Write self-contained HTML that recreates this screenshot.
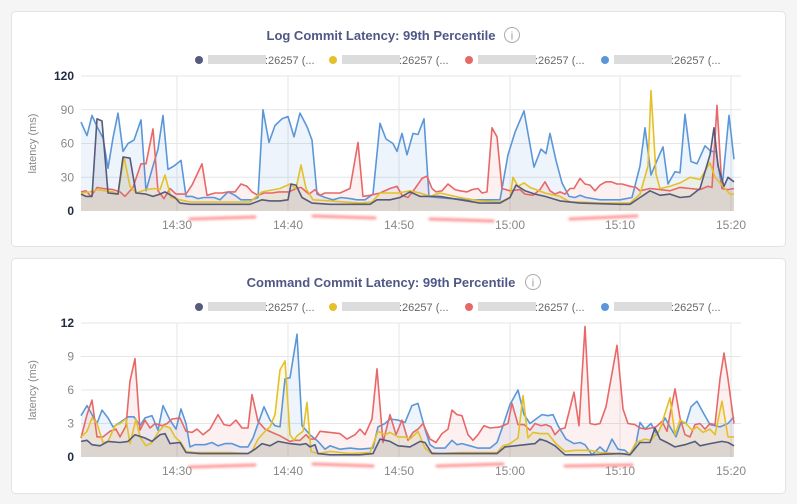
<!DOCTYPE html>
<html><head><meta charset="utf-8"><style>
html,body{margin:0;padding:0;background:#f5f5f5;width:797px;height:504px;overflow:hidden;font-family:"Liberation Sans",sans-serif}
svg{position:absolute;left:0;top:0}
</style></head><body>
<svg id="s" width="797" height="504" xmlns="http://www.w3.org/2000/svg">
<defs><filter id="bl" filterUnits="userSpaceOnUse" x="0" y="0" width="797" height="504"><feGaussianBlur stdDeviation="1.2"/></filter></defs>
</svg>
<script>
var S=document.getElementById('s'),NS='http://www.w3.org/2000/svg';
function el(t,a,txt){var e=document.createElementNS(NS,t);for(var k in a)e.setAttribute(k,a[k]);if(txt!=null)e.textContent=txt;S.appendChild(e);return e;}
var C={d:'#565a7c',y:'#e4c02a',r:'#e86868',b:'#5b97d8'};
function chart(top,title,titleX,infoX,max,ticks,zeroY,topY,data){
  el('rect',{x:11.5,y:top+0.5,width:774,height:235,rx:4,fill:'#fff',stroke:'#e3e3e3'});
  el('text',{x:titleX,y:top+29,'font-size':13,'font-weight':'bold',fill:'#4f5787','text-anchor':'middle'},title);
  el('circle',{cx:infoX,cy:top+24,r:7.5,fill:'none',stroke:'#aaa','stroke-width':1});
  el('text',{x:infoX,y:top+28.5,'font-size':11,fill:'#999','text-anchor':'middle'},'i');
  var lx=[199,333,469,605],lc=[C.d,C.y,C.r,C.b];
  for(var i=0;i<4;i++){el('circle',{cx:lx[i],cy:top+49,r:4,fill:lc[i]});
    el('rect',{x:lx[i]+9,y:top+44,width:58,height:9,fill:'#dcdcdc'});
    el('text',{x:lx[i]+66,y:top+53,'font-size':11,fill:'#666'},':26257 (...');}
  var h=zeroY-topY;
  for(var j=0;j<ticks.length;j++){var v=ticks[j],y=zeroY-h*v/max;
    if(j>0)el('line',{x1:81,x2:741,y1:y,y2:y,stroke:'#e6e6e6'});
    el('text',{x:74,y:y+4,'font-size':12,'text-anchor':'end',fill:(v==0||v==max)?'#222a44':'#888','font-weight':(v==0||v==max)?'bold':'normal'},v);}
  var xs=[177,288,399,510,620,731],xl=['14:30','14:40','14:50','15:00','15:10','15:20'];
  for(var j=0;j<6;j++){el('line',{x1:xs[j],x2:xs[j],y1:topY,y2:zeroY,stroke:'#e6e6e6'});
    el('text',{x:xs[j],y:zeroY+18,'font-size':12,fill:'#888','text-anchor':'middle'},xl[j]);}
  el('text',{transform:'translate(36,'+((zeroY+topY)/2)+') rotate(-90)','font-size':11,fill:'#888','text-anchor':'middle'},'latency (ms)');
  var order=['b','r','y','d'];
  order.forEach(function(k){var p=data[k].map(function(q){return q[0]+','+(zeroY-h*q[1]/max).toFixed(1)});
    el('polygon',{points:'81,'+zeroY+' '+p.join(' ')+' 734,'+zeroY,fill:C[k],'fill-opacity':0.1});});
  order.forEach(function(k){var p=data[k].map(function(q){return q[0]+','+(zeroY-h*q[1]/max).toFixed(1)});
    el('polyline',{points:p.join(' '),fill:'none',stroke:C[k],'stroke-width':1.6,'stroke-linejoin':'round'});});
}
function P(a){var r=[];for(var i=0;i<a.length;i+=2)r.push([a[i],a[i+1]]);return r;}
var d1={
b:P([81,79,87,67,92,85,97,75,103,65,108,38,113,65,118,87,123,53,128,60,134,63,141,81,146,18,153,40,158,55,163,85,168,37,174,40,181,45,186,13,192,13,198,11,204,12,214,12,220,10,228,17,235,14,241,10,252,10,258,12,263,90,269,61,275,76,282,82,288,84,294,66,300,87,307,75,312,63,317,15,325,12,333,10,341,12,350,11,357,10,365,10,373,15,380,78,386,64,393,60,397,53,402,69,407,50,413,69,418,68,424,82,429,13,437,12,450,11,470,10,500,10,508,50,515,70,524,89,534,39,541,55,546,51,550,69,556,45,562,25,569,13,575,12,580,14,586,12,600,10,620,10,632,12,640,40,645,74,651,32,657,45,663,57,668,24,675,35,680,34,685,86,691,44,697,42,705,58,711,53,716,53,722,20,729,85,734,46]),
y:P([81,16,90,17,97,19,105,18,113,17,118,15,124,48,130,22,136,16,146,19,155,20,160,19,165,32,171,12,180,10,190,8,250,8,262,17,280,20,290,24,296,20,301,41,306,20,313,10,330,9,360,7,372,8,380,16,398,16,410,18,420,16,430,13,440,16,460,12,480,9,500,8,510,12,513,30,518,22,524,25,530,21,545,16,560,13,570,8,580,8,600,7,630,7,640,15,648,40,651,107,656,33,660,20,670,22,680,25,690,30,700,28,710,43,715,30,725,20,730,15,734,15]),
d:P([81,15,86,13,92,13,97,82,102,80,108,16,118,15,123,48,130,47,136,16,146,15,153,13,160,15,165,17,175,12,180,7,190,6,200,6,250,6,262,10,270,9,280,9,288,10,291,24,296,23,302,12,312,7,330,6,370,6,377,10,390,10,400,12,410,17,420,13,440,13,460,10,480,7,500,7,510,12,516,23,525,18,535,15,545,13,560,9,580,7,620,6,630,6,640,12,650,18,660,14,670,15,680,12,690,13,700,20,710,50,714,74,718,40,724,22,728,30,734,26]),
r:P([81,17,86,18,91,13,97,21,103,20,113,19,120,17,125,13,133,21,141,42,146,42,153,73,158,18,164,11,170,20,176,15,186,15,192,23,202,42,207,14,215,16,222,16,228,17,235,17,241,24,247,22,252,17,258,14,264,16,272,16,279,17,289,17,296,20,301,21,309,15,315,19,320,14,325,16,340,16,350,20,358,61,363,13,370,14,380,16,390,20,397,22,402,14,408,12,415,20,422,29,427,31,432,20,436,17,442,18,448,24,455,19,460,18,467,17,472,19,478,20,482,16,487,17,492,74,497,66,502,20,510,18,520,19,525,15,533,14,540,19,545,26,550,18,555,15,560,17,565,15,570,20,574,20,580,29,585,24,590,23,595,18,600,23,606,26,611,26,617,24,622,24,630,22,636,21,640,18,650,20,660,19,670,18,680,21,690,20,700,19,708,22,712,21,717,94,722,20,728,19,734,20])};
var d2={
b:P([81,3.7,87,4.6,97,3.0,102,4.2,108,3.5,113,2.7,120,3.1,128,3.6,134,3.6,140,2.8,145,3.5,152,3.7,158,2.4,163,4.6,170,3.3,176,2.5,181,4.3,186,3.0,190,0.9,195,1.1,205,1.1,212,1.3,218,1.0,225,1.2,232,1.2,240,0.9,248,0.9,253,1.7,264,4.5,270,3.3,275,2.8,280,2.7,285,7.0,290,7.1,297,11.0,302,2.8,310,2.0,318,1.4,325,0.7,330,1.0,340,0.7,350,0.8,360,0.7,373,0.8,378,2.7,385,3.0,390,3.4,398,3.3,405,3.1,412,4.6,418,4.8,425,2.5,430,1.1,435,0.8,445,0.8,452,1.5,457,1.1,462,1.2,470,1.0,478,0.8,490,0.8,497,1.3,503,2.8,510,4.7,518,6.0,524,3.8,530,3.0,536,3.4,542,3.8,548,3.7,553,3.8,558,2.8,566,1.6,574,1.2,580,1.3,585,1.1,592,0.2,600,0.9,606,0.4,612,1.6,618,0.7,625,0.6,630,0.2,636,1.2,640,3.1,645,2.5,651,3.0,657,2.0,665,3.5,670,2.7,676,1.8,681,3.1,686,3.0,691,4.5,697,5.0,703,4.0,710,2.9,720,2.7,728,3.0,734,3.6]),
r:P([81,1.7,87,3.8,92,5.1,97,1.8,103,1.8,110,2.3,116,2.5,120,1.8,126,2.8,130,6.8,135,8.8,140,2.4,145,3.3,150,2.6,155,3.0,162,2.8,167,3.0,172,3.4,180,3.5,186,2.3,192,2.2,197,2.5,203,2.0,210,2.5,218,3.8,224,2.9,230,2.8,236,3.3,242,2.6,248,2.6,252,5.6,258,3.2,265,2.5,272,2.2,280,1.9,290,1.4,295,1.5,300,1.5,306,2.0,310,1.6,315,1.6,320,2.3,330,2.2,340,2.1,347,1.6,355,2.0,360,2.5,365,2.0,372,3.4,377,7.9,383,1.3,390,3.8,396,2.0,402,3.3,408,1.5,413,2.2,418,2.5,423,3.0,430,1.6,436,1.3,442,2.1,448,2.5,452,4.2,457,3.8,462,3.7,468,2.0,473,1.5,478,2.0,484,2.8,490,2.6,500,2.7,508,3.0,512,4.8,518,2.9,524,2.9,530,2.4,535,3.0,541,2.8,546,2.9,551,2.7,555,2.0,560,2.5,565,2.6,574,5.8,579,2.8,585,11.7,590,3.0,595,2.9,600,3.0,606,4.5,612,7.5,617,10.0,623,4.3,628,3.0,635,2.9,640,2.6,646,2.5,651,2.6,656,2.7,662,3.2,667,2.3,670,3.8,675,6.1,680,3.5,685,2.0,690,1.8,695,2.9,700,3.0,705,2.5,710,3.0,715,2.9,720,7.0,724,9.3,728,7.0,734,3.0]),
y:P([81,1.8,87,2.3,92,3.5,97,3.0,103,1.3,108,1.4,115,2.8,120,3.0,126,3.4,130,1.2,136,3.4,140,1.8,146,1.0,152,1.3,158,2.2,164,2.8,170,2.6,175,1.8,181,1.3,186,0.5,195,0.4,210,0.4,230,0.4,248,0.3,252,0.5,258,1.6,265,2.3,270,2.7,275,3.8,280,7.8,285,8.6,290,2.0,294,1.5,297,1.9,303,2.3,307,4.9,311,0.5,318,0.3,330,0.5,340,0.4,350,0.3,370,0.4,378,2.3,385,2.0,390,2.2,398,1.8,405,1.8,410,1.6,418,2.3,425,0.8,430,0.4,440,0.3,460,0.4,480,0.4,497,0.4,503,1.0,510,1.2,518,1.7,523,5.5,528,1.7,533,2.2,540,2.1,548,2.1,556,1.2,565,0.5,575,0.6,590,0.6,600,0.4,620,0.3,630,0.3,636,1.3,645,1.6,651,1.5,660,2.5,670,5.3,675,2.0,680,3.3,686,3.0,692,2.4,697,2.7,703,2.2,710,2.5,715,2.0,722,5.0,728,1.8,734,1.8]),
d:P([81,1.4,87,1.5,92,1.1,100,1.0,108,1.4,120,1.3,128,1.4,135,2.0,145,1.7,152,1.4,160,2.0,165,2.1,170,1.2,180,1.3,186,0.4,200,0.3,220,0.3,248,0.3,255,0.7,262,1.2,270,1.0,278,1.4,290,1.2,300,1.1,306,1.2,310,0.9,315,1.1,318,0.3,330,0.2,360,0.2,373,0.3,380,1.6,390,1.4,398,1.0,410,0.9,420,1.4,425,1.3,432,0.3,460,0.3,497,0.3,505,0.9,515,1.0,525,1.1,535,1.2,540,1.6,547,1.4,555,1.0,565,0.2,590,0.2,620,0.3,630,0.2,640,1.3,650,1.3,655,2.6,660,1.6,667,1.3,675,0.9,685,1.1,695,1.4,700,1.0,710,1.2,722,1.4,728,1.3,734,1.0])};
chart(11,'Log Commit Latency: 99th Percentile',381,512,120,[0,30,60,90,120],211,76,d1);
chart(258,'Command Commit Latency: 99th Percentile',381,533,12,[0,3,6,9,12],457,323,d2);
[[190,255,219,217],[313,375,216,218],[430,493,219,221],[570,637,219,216],[190,255,467,465],[313,373,464,466],[437,503,466,464],[565,632,466,465]].forEach(function(s){
 el('line',{x1:s[0],x2:s[1],y1:s[2],y2:s[3],stroke:'#ff7a7a','stroke-width':3,'stroke-linecap':'round',filter:'url(#bl)','stroke-opacity':0.8});});
</script>
</body></html>
